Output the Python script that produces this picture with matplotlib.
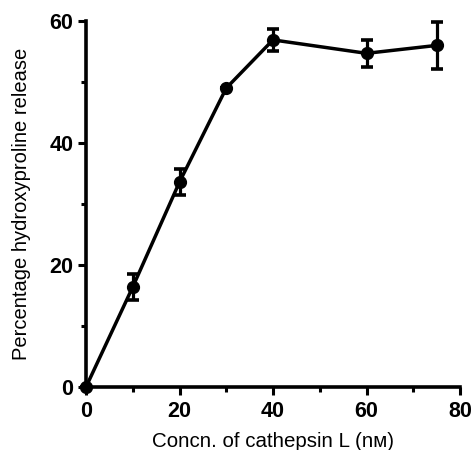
import matplotlib
matplotlib.use("Agg")
import matplotlib.pyplot as plt
from matplotlib.ticker import MultipleLocator

# data
conc_nm = [0, 10, 20, 30, 40, 60, 75]
release_pct = [0, 16.4, 33.6, 49.0, 56.9, 54.7, 56.0]
release_err = [0, 2.1, 2.2, 0, 1.8, 2.2, 3.8]
x_ticks = [0, 20, 40, 60, 80]
y_ticks = [0, 20, 40, 60]

plt.rcParams['font.family'] = ['Liberation Sans', 'DejaVu Sans']

fig = plt.figure(figsize=(4.75, 4.5), dpi=100)
# axes box: x 86..460 px, y 21..387 px
ax = fig.add_axes([86 / 475, 1 - 387 / 450, (460 - 86) / 475, (387 - 21) / 450])

ax.errorbar(conc_nm, release_pct, yerr=release_err, color='black', lw=2.5,
            marker='o', ms=8.5, capsize=4, capthick=2.6, elinewidth=2.3,
            clip_on=False, zorder=3)

ax.set_xlim(0, 80)
ax.set_ylim(0, 60)
ax.set_xticks(x_ticks)
ax.set_yticks(y_ticks)
ax.xaxis.set_minor_locator(MultipleLocator(10))
ax.yaxis.set_minor_locator(MultipleLocator(10))

for side in ('top', 'right'):
    ax.spines[side].set_visible(False)
for side in ('left', 'bottom'):
    ax.spines[side].set_linewidth(2.6)

ax.tick_params(which='major', direction='out', length=6, width=2.2,
               labelsize=15.5, pad=3)
ax.tick_params(which='minor', direction='out', length=3.5, width=2.2)
ax.tick_params(axis='x', which='major', pad=4)
for lbl in ax.get_xticklabels() + ax.get_yticklabels():
    lbl.set_fontweight('bold')

ax.set_xlabel('Concn. of cathepsin L (nᴍ)', fontsize=14.8, labelpad=7)
ax.set_ylabel('Percentage hydroxyproline release', fontsize=14.5, labelpad=13)

fig.savefig('out.png', dpi=100)
